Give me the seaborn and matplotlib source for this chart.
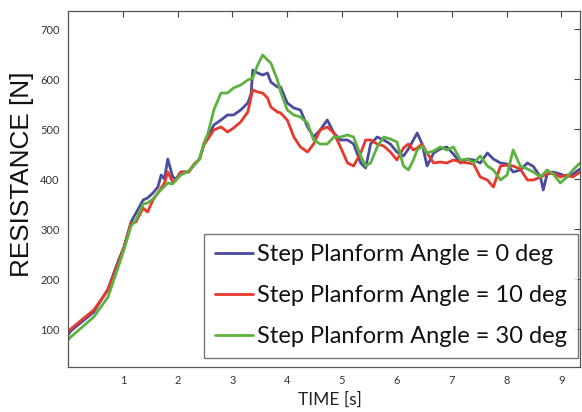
import matplotlib
matplotlib.use("Agg")
import matplotlib.pyplot as plt
import seaborn as sns
import pandas as pd

# ---- data ----
t_blue = [0.0, 0.05, 0.47, 0.73, 0.91, 1.02, 1.15, 1.24, 1.37, 1.45, 1.55, 1.64, 1.70, 1.76, 1.82, 1.91, 1.97,
          2.06, 2.20, 2.30, 2.40, 2.48, 2.55, 2.66, 2.79, 2.91, 3.02, 3.15, 3.28, 3.34, 3.37, 3.46, 3.55,
          3.64, 3.70, 3.82, 3.88, 4.00, 4.12, 4.24, 4.37, 4.48, 4.60, 4.73, 4.85, 4.97, 5.10, 5.21, 5.34,
          5.43, 5.52, 5.64, 5.76, 5.88, 6.00, 6.12, 6.21, 6.30, 6.37, 6.46, 6.55, 6.67, 6.79, 6.91, 7.03,
          7.16, 7.29, 7.40, 7.52, 7.65, 7.76, 7.89, 8.01, 8.12, 8.25, 8.38, 8.49, 8.62, 8.67, 8.74, 8.85,
          8.98, 9.10, 9.21, 9.34]
r_blue = [88, 96, 134, 180, 234, 264, 314, 332, 358, 362, 372, 384, 408, 400, 440, 404, 400,
          414, 414, 428, 440, 470, 482, 508, 518, 528, 528, 538, 552, 570, 618, 612, 608,
          612, 594, 584, 584, 552, 542, 538, 504, 484, 498, 518, 492, 478, 478, 470, 432,
          422, 470, 484, 478, 470, 454, 446, 460, 478, 492, 470, 426, 452, 460, 464, 450,
          432, 440, 438, 432, 452, 440, 432, 430, 414, 418, 432, 425, 404, 378, 410, 414,
          410, 404, 410, 420]

t_red = [0.0, 0.05, 0.47, 0.73, 0.91, 1.02, 1.15, 1.24, 1.37, 1.45, 1.55, 1.64, 1.76, 1.82, 1.91, 1.97,
         2.06, 2.20, 2.30, 2.40, 2.48, 2.55, 2.66, 2.79, 2.91, 3.02, 3.15, 3.28, 3.37, 3.46, 3.55, 3.64,
         3.70, 3.82, 3.88, 4.00, 4.12, 4.24, 4.37, 4.48, 4.60, 4.73, 4.85, 4.97, 5.10, 5.21, 5.34, 5.43,
         5.52, 5.64, 5.76, 5.88, 6.00, 6.12, 6.21, 6.30, 6.37, 6.46, 6.55, 6.67, 6.79, 6.91, 7.03, 7.16,
         7.29, 7.40, 7.52, 7.65, 7.76, 7.89, 8.01, 8.12, 8.25, 8.38, 8.49, 8.62, 8.74, 8.85, 8.98, 9.10,
         9.21, 9.34]
r_red = [92, 100, 138, 178, 230, 262, 312, 314, 342, 334, 358, 372, 392, 414, 394, 398,
         414, 414, 430, 440, 468, 480, 498, 504, 494, 502, 514, 534, 578, 574, 572, 562,
         544, 534, 532, 518, 484, 464, 454, 470, 498, 504, 492, 464, 432, 426, 452, 478,
         478, 470, 466, 454, 438, 462, 470, 458, 462, 470, 452, 432, 434, 432, 438, 434,
         432, 430, 404, 398, 384, 426, 428, 426, 420, 398, 398, 404, 410, 412, 404, 408,
         404, 414]

t_green = [0.0, 0.05, 0.47, 0.73, 0.91, 1.02, 1.15, 1.24, 1.37, 1.45, 1.55, 1.64, 1.82, 1.91, 1.97,
           2.06, 2.20, 2.30, 2.40, 2.48, 2.55, 2.66, 2.79, 2.91, 3.02, 3.15, 3.28, 3.37, 3.46, 3.55,
           3.64, 3.70, 3.82, 3.88, 4.00, 4.12, 4.24, 4.37, 4.48, 4.60, 4.73, 4.85, 4.97, 5.10, 5.21,
           5.34, 5.43, 5.52, 5.64, 5.76, 5.88, 6.00, 6.12, 6.21, 6.30, 6.37, 6.46, 6.55, 6.67, 6.79,
           6.91, 7.03, 7.16, 7.29, 7.40, 7.52, 7.65, 7.76, 7.89, 8.01, 8.12, 8.25, 8.38, 8.49, 8.62,
           8.74, 8.85, 8.98, 9.10, 9.21, 9.34]
r_green = [78, 84, 124, 164, 222, 258, 306, 318, 350, 352, 360, 372, 392, 390, 398,
           408, 416, 428, 440, 472, 490, 538, 572, 572, 582, 588, 598, 602, 628, 648,
           638, 632, 598, 574, 538, 528, 524, 512, 478, 470, 470, 484, 484, 488, 484,
           446, 426, 432, 464, 484, 480, 474, 426, 418, 438, 458, 466, 452, 456, 464,
           458, 464, 438, 440, 432, 446, 426, 418, 398, 408, 458, 426, 420, 414, 404,
           418, 410, 392, 404, 418, 432]

labels = ["Step Planform Angle = 0 deg", "Step Planform Angle = 10 deg", "Step Planform Angle = 30 deg"]
colors = ["#4b4b9e", "#e8382b", "#5cb23e"]

frames = []
for t, r, lab in zip([t_blue, t_red, t_green], [r_blue, r_red, r_green], labels):
    frames.append(pd.DataFrame({"time": t, "res": r, "series": lab}))
df = pd.concat(frames, ignore_index=True)

sns.set_style("white")
plt.rcParams["font.family"] = ["Lato", "DejaVu Sans"]

W, H = 582, 412
fig = plt.figure(figsize=(W / 100, H / 100), dpi=100)
ax = fig.add_axes([68 / W, 45 / H, 512 / W, 356 / H])

sns.lineplot(data=df, x="time", y="res", hue="series", palette=colors,
             hue_order=labels, linewidth=2.0, ax=ax, estimator=None, sort=True)

ax.set_xlim(0, 9.34)
ax.set_ylim(24, 736)
ax.set_xticks(range(1, 10))
ax.set_yticks(range(100, 800, 100))
ax.tick_params(direction="in", length=4, width=0.8, color="#444444",
               top=True, right=True, labelsize=8, labelcolor="#333333", pad=6)
for s in ax.spines.values():
    s.set_color("#555555")
    s.set_linewidth(0.9)

ax.set_xlabel("")
ax.set_ylabel("")
fig.text(330 / W, 1 - 400 / H, "TIME [s]", fontsize=12.5, color="#222222",
         ha="center", va="center")
fig.text(22 / W, 1 - 174 / H, "RESISTANCE [N]", fontsize=18.8, family=["Liberation Sans"],
         color="#111111", rotation=90, ha="center", va="center")

leg = ax.legend(loc="lower right", bbox_to_anchor=(0.996, 0.025), fontsize=17,
                frameon=True, fancybox=False, handlelength=1.6, handletextpad=0.2,
                labelspacing=0.85, borderpad=0.45, borderaxespad=0)
leg.get_frame().set_edgecolor("#555555")
leg.get_frame().set_linewidth(1.0)
for line in leg.get_lines():
    line.set_linewidth(2.0)
for txt in leg.get_texts():
    txt.set_color("#111111")

fig.savefig("out.png", dpi=100)
